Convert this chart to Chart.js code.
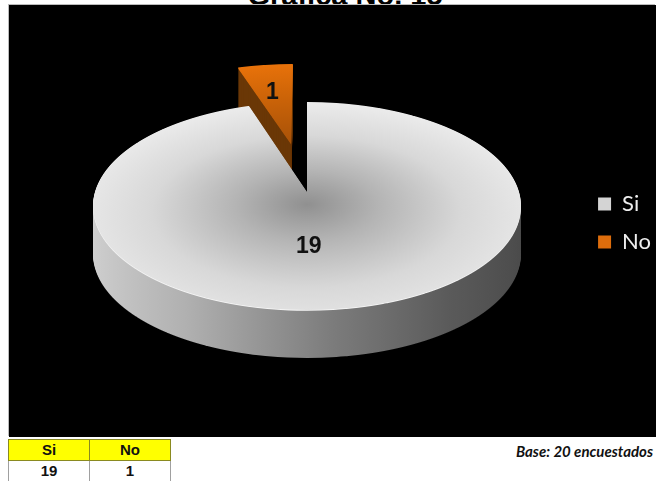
<!DOCTYPE html>
<html>
<head>
<meta charset="utf-8">
<style>
  html, body { margin: 0; padding: 0; background: #fff; overflow: hidden; }
  body { position: relative; width: 656px; height: 481px; }
  #chart-title {
    position: absolute; left: 245px; top: -19px; width: 200px; text-align: center;
    font: bold 29px/28px "Liberation Sans", Arial, sans-serif; color: #000; white-space: nowrap;
  }
  #chart-wrap { position: absolute; left: 9px; top: 5px; width: 647px; height: 432px; background: #000; box-shadow: -1px -1px 0 #bbb; }
  #pie { filter: blur(0.5px); }
  #data-table {
    position: absolute; left: 8px; top: 439px; border-collapse: collapse; table-layout: fixed;
    font: bold 15px/18px "Liberation Sans", Arial, sans-serif; color: #111;
  }
  #data-table td { width: 80px; height: 20px; padding: 0; text-align: center; border: 1px solid #a0a0a0; }
  #data-table tr:first-child td { background: #ffff00; border-color: #8a8a20; }
  #base-note {
    position: absolute; right: 3px; top: 443px; color: #111;
    font: italic bold 15px/16px Lato, "Liberation Sans", sans-serif;
  }
</style>
</head>
<body>
<div id="chart-title"></div>
<div id="chart-wrap"><canvas id="pie" width="647" height="432"></canvas></div>
<table id="data-table"></table>
<div id="base-note"></div>

<script src="https://cdn.jsdelivr.net/npm/chart.js@4/dist/chart.umd.min.js"></script>
<script>
const TITLE = 'Grafica No. 15';
const BASE_NOTE = 'Base: 20 encuestados';
const CATEGORIES = ['Si', 'No'];
const VALUES = [19, 1];
const LEGEND_COLORS = ['#d4d4d4', '#dd6d0c'];

// ── Projection of the flat pie onto the tilted disc ─────────────────
const VIEW = { cx: 298, y0: 187, sx: 212, sy: 102.1, k: -0.1346, depth: 48 };
const EXPLODE = [0, 0.514];
const LABEL_NUDGE = [[-16, 1], [-5, -9]];

function drawSliceLayer(ctx, el, index, fill, shift, R) {
  const { cx, y0, sx, sy, k } = VIEW;
  const mid = (el.startAngle + el.endAngle) / 2;
  const ex = Math.cos(mid) * EXPLODE[index] * R;
  const ey = Math.sin(mid) * EXPLODE[index] * R;
  const evMid = ey / R;
  const saved = el.options;
  el.options = Object.assign({}, saved, { backgroundColor: fill, borderWidth: 0 });

  for (let r = 0; r < 432; r++) {
    const Y = r + 0.5 - y0 - shift;
    const denom = sy - k * Y;
    if (denom <= 0) continue;
    const v = Y / denom;
    if (v < evMid - 1.03 || v > evMid + 1.03) continue;
    const p = 1 + k * v;
    const a = sx / (R * p);
    const d = sy / (p * p * R);
    ctx.save();
    ctx.beginPath();
    ctx.rect(0, r, 647, 1);
    ctx.clip();
    ctx.setTransform(a, 0, 0, d, cx - a * el.x, r + 0.5 - d * (el.y + v * R));
    ctx.translate(ex, ey);
    el.draw(ctx);
    ctx.restore();
  }
  el.options = saved;
}

function projectPoint(u, v) {
  const p = 1 + VIEW.k * v;
  return { x: VIEW.cx + VIEW.sx * u / p, y: VIEW.y0 + VIEW.sy * v / p };
}

const tiltedPie = {
  id: 'tiltedPie',
  beforeDatasetsDraw(chart) {
    const ctx = chart.ctx;
    const arcs = chart.getDatasetMeta(0).data;
    const { x, y, outerRadius: R } = arcs[0];

    const siTop = ctx.createRadialGradient(x, y + 0.12 * R, 0, x, y + 0.12 * R, R * 1.1);
    siTop.addColorStop(0, '#909090');
    siTop.addColorStop(0.3, '#b4b4b4');
    siTop.addColorStop(0.65, '#d8d8d8');
    siTop.addColorStop(1, '#ebebeb');

    const siWall = ctx.createLinearGradient(x - R, 0, x + R, 0);
    siWall.addColorStop(0, '#d0d0d0');
    siWall.addColorStop(0.25, '#b0b0b0');
    siWall.addColorStop(0.55, '#7c7c7c');
    siWall.addColorStop(0.8, '#5a5a5a');
    siWall.addColorStop(1, '#4a4a4a');

    const noTop = ctx.createRadialGradient(x, y, 0, x, y, R);
    noTop.addColorStop(0, '#a85208');
    noTop.addColorStop(0.6, '#cf6508');
    noTop.addColorStop(1, '#e8720a');

    const tops = [siTop, noTop];
    const walls = [siWall, '#6a3706'];

    // exploded slice goes behind the big one, walls deep to shallow
    [1, 0].forEach(i => {
      for (let s = VIEW.depth; s >= 1; s--) {
        drawSliceLayer(ctx, arcs[i], i, walls[i], s, R);
      }
      drawSliceLayer(ctx, arcs[i], i, i === 0 ? '#f8f8f8' : tops[i], 0.8, R);
      drawSliceLayer(ctx, arcs[i], i, tops[i], 0, R);
    });

    ctx.save();
    ctx.fillStyle = '#111';
    ctx.font = 'bold 23px "Liberation Sans", Arial, sans-serif';
    ctx.textAlign = 'center';
    ctx.textBaseline = 'middle';
    arcs.forEach((el, i) => {
      const mid = (el.startAngle + el.endAngle) / 2;
      const rr = 0.5;
      const u = Math.cos(mid) * (rr + EXPLODE[i]);
      const v = Math.sin(mid) * (rr + EXPLODE[i]);
      const pt = projectPoint(u, v);
      ctx.fillText(VALUES[i], pt.x + LABEL_NUDGE[i][0], pt.y + LABEL_NUDGE[i][1]);
    });
    ctx.restore();
    return false;
  },
};

new Chart(document.getElementById('pie'), {
  type: 'pie',
  data: {
    labels: CATEGORIES,
    datasets: [{ data: VALUES, backgroundColor: LEGEND_COLORS, borderWidth: 0 }],
  },
  options: {
    responsive: false,
    animation: false,
    layout: { padding: { top: 4, right: -5 } },
    plugins: {
      title: { display: false },
      tooltip: { enabled: false },
      legend: {
        position: 'right',
        labels: {
          color: '#eeeeee',
          font: { family: 'Lato', size: 22 },
          boxWidth: 13,
          boxHeight: 13,
          padding: 16,
        },
      },
    },
  },
  plugins: [tiltedPie],
});

document.getElementById('chart-title').textContent = TITLE;
document.getElementById('base-note').textContent = BASE_NOTE;
document.getElementById('data-table').innerHTML = `
  <tr>${CATEGORIES.map(c => `<td>${c}</td>`).join('')}</tr>
  <tr>${VALUES.map(v => `<td>${v}</td>`).join('')}</tr>`;
</script>
</body>
</html>
